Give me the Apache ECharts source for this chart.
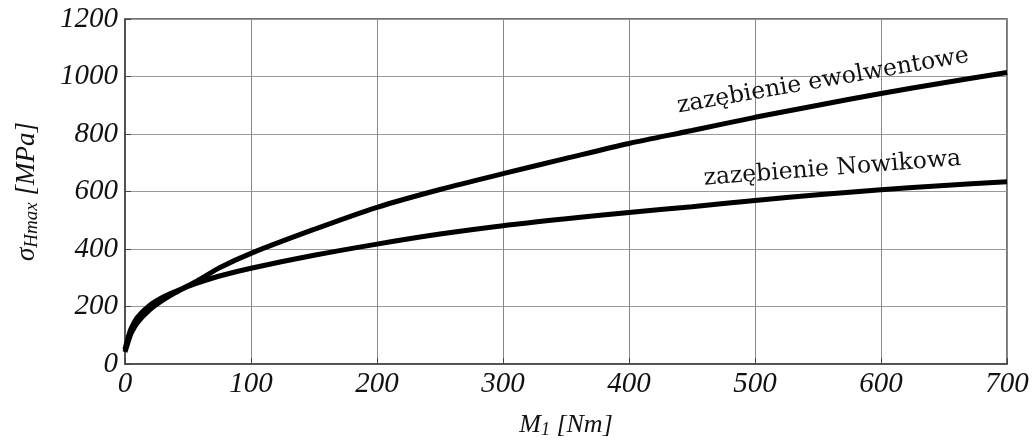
<!DOCTYPE html>
<html>
<head>
<meta charset="utf-8">
<script src="https://cdn.jsdelivr.net/npm/echarts@6/dist/echarts.min.js"></script>
<style>
  html, body { margin: 0; padding: 0; background: #fff; }
  #chart { width: 1033px; height: 445px; }
</style>
</head>
<body>
<div id="chart"></div>
<script>
// M1 [Nm] values
const moments = [0, 2, 5, 10, 20, 30, 40, 50, 60, 75, 100, 150, 200, 250, 300, 350, 400, 450, 500, 550, 600, 650, 700];
// sigma_Hmax [MPa], involute gearing
const ewolwentowe = [42, 70, 108, 145, 190, 222, 248, 272, 296, 335, 385, 468, 545, 607, 662, 715, 767, 812, 858, 900, 941, 978, 1014];
// sigma_Hmax [MPa], Novikov gearing
const nowikowa = [50, 85, 125, 163, 205, 232, 252, 270, 285, 306, 333, 378, 417, 452, 481, 505, 527, 547, 569, 589, 606, 621, 634];
const xTicks = [0, 100, 200, 300, 400, 500, 600, 700];
const yTicks = [0, 200, 400, 600, 800, 1000, 1200];

const dom = document.getElementById("chart");
const myChart = echarts.init(dom, null, { renderer: "canvas" });

const tickFont = {
  fontFamily: "Liberation Serif",
  fontStyle: "italic",
  fontSize: 29,
  color: "#111",
  formatter: (v) => String(v)
};

const toPairs = (ys) => moments.map((m, i) => [m, ys[i]]);

const option = {
  animation: false,
  backgroundColor: "#fff",
  grid: {
    left: 125, right: 26, top: 19, bottom: 81,
    show: true, borderColor: "#444", borderWidth: 1.5
  },
  xAxis: {
    type: "value",
    min: xTicks[0], max: xTicks[xTicks.length - 1], interval: 100,
    name: "M{sub|1} [Nm]",
    nameLocation: "middle",
    nameGap: 47,
    nameTextStyle: {
      fontFamily: "Liberation Serif", fontStyle: "italic", fontSize: 26, color: "#111",
      rich: { sub: { fontFamily: "Liberation Serif", fontStyle: "italic", fontSize: 18, color: "#111", padding: [10, 0, 0, 0] } }
    },
    axisLine: { lineStyle: { color: "#444", width: 1.5 } },
    axisTick: { inside: true, length: 6, lineStyle: { color: "#444" } },
    axisLabel: Object.assign({ margin: 6 }, tickFont),
    splitLine: { lineStyle: { color: "#888", width: 1 } }
  },
  yAxis: {
    type: "value",
    min: yTicks[0], max: yTicks[yTicks.length - 1], interval: 200,
    name: "σ{sub|Hmax} [MPa]",
    nameLocation: "middle",
    nameGap: 84,
    nameTextStyle: {
      fontFamily: "Liberation Serif", fontStyle: "italic", fontSize: 27, color: "#111",
      rich: { sub: { fontFamily: "Liberation Serif", fontStyle: "italic", fontSize: 19, color: "#111", padding: [10, 0, 0, 0] } }
    },
    axisLine: { lineStyle: { color: "#444", width: 1.5 } },
    axisTick: { inside: true, length: 6, lineStyle: { color: "#444" } },
    axisLabel: Object.assign({ margin: 7 }, tickFont),
    splitLine: { lineStyle: { color: "#999", width: 1 } }
  },
  series: [
    {
      name: "zazębienie ewolwentowe",
      type: "line",
      data: toPairs(ewolwentowe),
      smooth: 0.3,
      showSymbol: false,
      lineStyle: { color: "#000", width: 5 }
    },
    {
      name: "zazębienie Nowikowa",
      type: "line",
      data: toPairs(nowikowa),
      smooth: 0.3,
      showSymbol: false,
      lineStyle: { color: "#000", width: 5 }
    }
  ]
};

myChart.setOption(option);

// curve labels, placed in data coordinates
const labelText = (text, at, deg) => {
  const p = myChart.convertToPixel({ gridIndex: 0 }, at);
  return {
    type: "text",
    x: p[0], y: p[1],
    rotation: deg * Math.PI / 180,
    style: {
      text: text,
      font: "23.5px 'DejaVu Serif'",
      fill: "#111",
      textAlign: "left",
      textVerticalAlign: "bottom"
    }
  };
};

myChart.setOption({
  graphic: [
    labelText("zazębienie ewolwentowe", [440, 855], 9.9),
    labelText("zazębienie Nowikowa", [460, 603], 4.4)
  ]
});

window.addEventListener("resize", myChart.resize);
</script>
</body>
</html>
